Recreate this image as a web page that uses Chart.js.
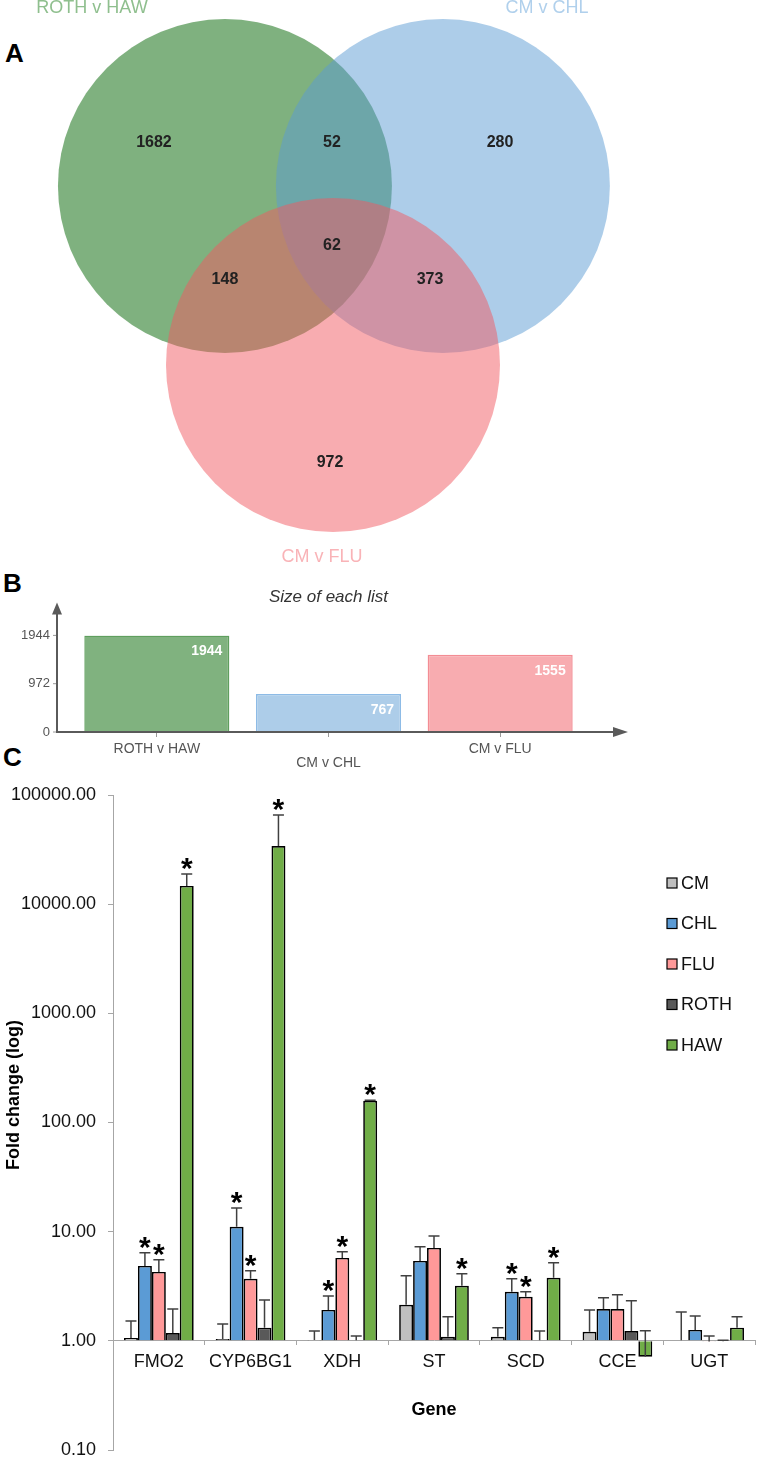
<!DOCTYPE html>
<html>
<head>
<meta charset="utf-8">
<script src="https://cdn.jsdelivr.net/npm/chart.js@4.4.1/dist/chart.umd.min.js"></script>
<style>
body { margin: 0; width: 757px; height: 1457px; overflow: hidden; position: relative; background: #fff; }
canvas { position: absolute; left: 0; }
.tag { position: absolute; font: bold 26px/26px "Liberation Sans", Arial, sans-serif; color: #000; }
</style>
</head>
<body>
<div class="tag" style="left:5px;top:40px">A</div>
<div class="tag" style="left:3px;top:570px">B</div>
<div class="tag" style="left:3px;top:744px">C</div>

<canvas id="chartA" width="757" height="575" style="top:0"></canvas>
<canvas id="chartB" width="757" height="188" style="top:587px"></canvas>
<canvas id="chartC" width="757" height="760" style="top:770px"></canvas>

<script>
// ---- data ----
// A: venn
var vennSets = ['ROTH v HAW', 'CM v CHL', 'CM v FLU'];
var vennCounts = [1682, 52, 280, 62, 148, 373, 972]; // G only, G+B, B only, all, G+P, B+P, P only

// B: list sizes
var listNames = ['ROTH v HAW', 'CM v CHL', 'CM v FLU'];
var listSizes = [1944, 767, 1555];
var listTicks = [0, 972, 1944];

// C: qPCR fold change
var genes = ['FMO2', 'CYP6BG1', 'XDH', 'ST', 'SCD', 'CCE', 'UGT'];
var strains = ['CM', 'CHL', 'FLU', 'ROTH', 'HAW'];
var cmFold   = [1.06, 1.04, 1.02, 2.14, 1.09, 1.21, 1.01];
var chlFold  = [4.86, 11.1, 1.92, 5.4, 2.81, 1.96, 1.26];
var fluFold  = [4.28, 3.70, 5.75, 7.1, 2.53, 1.96, 0.985];
var rothFold = [1.18, 1.32, 1.01, 1.09, 1.01, 1.23, 0.99];
var hawFold  = [14700, 34100, 158, 3.19, 3.78, 0.714, 1.32];
var cmErr   = [0.46, 0.39, 0.21, 1.80, 0.23, 0.71, 0.83];
var chlErr  = [1.54, 5.4, 0.66, 1.86, 0.89, 0.52, 0.43];
var fluErr  = [1.24, 0.68, 0.78, 2.05, 0.28, 0.68, 0.125];
var rothErr = [0.78, 1.05, 0.10, 0.57, 0.22, 1.10, 0.02];
var hawErr  = [4200, 31500, 2, 0.92, 1.40, 0.52, 0.34];
var cmSig   = [0, 0, 0, 0, 0, 0, 0];
var chlSig  = [1, 1, 1, 0, 1, 0, 0];
var fluSig  = [1, 1, 1, 0, 1, 0, 0];
var rothSig = [0, 0, 0, 0, 0, 0, 0];
var hawSig  = [1, 1, 1, 1, 1, 0, 0];
var foldTicks = [0.1, 1, 10, 100, 1000, 10000, 100000];

var FONT = '"Liberation Sans", Arial, sans-serif';
Chart.defaults.font.family = FONT;

// ---- A: venn drawn as big scatter points, geometry in circle-radius units ----
var vennLayout = {
  circles: [{x: 0, y: 0}, {x: 1.305, y: 0}, {x: 0.647, y: -1.072}],
  fill: ['rgba(0,100,0,0.5)', 'rgba(91,155,211,0.5)', 'rgba(241,89,97,0.5)'],
  countAt: [[-0.425, 0.263], [0.641, 0.263], [1.647, 0.263], [0.641, -0.359], [0, -0.563], [1.228, -0.563], [0.629, -1.653]],
  setAt: [[-0.796, 1.066], [1.928, 1.066], [0.581, -2.222]],
  setColor: ['#8fbf8e', '#b0d0ec', '#f9b3b7']
};

function unitPx(chart) {
  var x = chart.scales.x;
  return x.getPixelForValue(1) - x.getPixelForValue(0);
}

var vennText = {
  id: 'vennText',
  afterDatasetsDraw: function(chart) {
    var ctx = chart.ctx, sx = chart.scales.x, sy = chart.scales.y;
    ctx.save();
    ctx.textAlign = 'center';
    ctx.textBaseline = 'middle';
    ctx.font = 'bold 16px ' + FONT;
    ctx.fillStyle = '#222';
    vennCounts.forEach(function(n, i) {
      var p = vennLayout.countAt[i];
      ctx.fillText(n, sx.getPixelForValue(p[0]), sy.getPixelForValue(p[1]));
    });
    ctx.font = '18px ' + FONT;
    vennSets.forEach(function(s, i) {
      var p = vennLayout.setAt[i];
      ctx.fillStyle = vennLayout.setColor[i];
      ctx.fillText(s, sx.getPixelForValue(p[0]), sy.getPixelForValue(p[1]));
    });
    ctx.restore();
  }
};

new Chart(document.getElementById('chartA'), {
  type: 'scatter',
  data: {
    datasets: [{
      data: vennLayout.circles,
      backgroundColor: vennLayout.fill,
      borderWidth: 0,
      pointBorderWidth: 0,
      pointRadius: function(c) { return unitPx(c.chart); },
      clip: false
    }]
  },
  options: {
    responsive: false, animation: false, events: [],
    plugins: { legend: { display: false }, tooltip: { enabled: false } },
    scales: {
      x: { type: 'linear', display: false, min: -1.347, max: 3.186 },
      y: { type: 'linear', display: false, min: -2.329, max: 1.114 }
    }
  },
  plugins: [vennText]
});

// ---- B: size of each list ----
var axesB = {
  id: 'axesB',
  afterDatasetsDraw: function(chart) {
    var ctx = chart.ctx, a = chart.chartArea, y = chart.scales.y;
    var x0 = a.left - 14, y0 = y.getPixelForValue(0);
    ctx.save();
    // value labels inside bars
    ctx.font = 'bold 14px ' + FONT;
    ctx.fillStyle = '#fff';
    ctx.textAlign = 'right';
    ctx.textBaseline = 'middle';
    chart.getDatasetMeta(0).data.forEach(function(bar, i) {
      ctx.fillText(listSizes[i], bar.x + bar.width / 2 - 7, bar.y + 16);
    });
    // y tick dashes
    ctx.strokeStyle = '#999';
    ctx.lineWidth = 1;
    listTicks.forEach(function(v) {
      var py = y.getPixelForValue(v);
      ctx.beginPath(); ctx.moveTo(x0 - 4, py); ctx.lineTo(x0, py); ctx.stroke();
    });
    // axes with arrows
    ctx.strokeStyle = ctx.fillStyle = '#5a5a5a';
    ctx.lineWidth = 2;
    ctx.beginPath();
    ctx.moveTo(x0, a.top - 22); ctx.lineTo(x0, y0); ctx.lineTo(a.right + 28, y0);
    ctx.stroke();
    ctx.beginPath();
    ctx.moveTo(x0, a.top - 33); ctx.lineTo(x0 - 5, a.top - 21); ctx.lineTo(x0 + 5, a.top - 21); ctx.closePath();
    ctx.moveTo(a.right + 42, y0); ctx.lineTo(a.right + 27, y0 - 5); ctx.lineTo(a.right + 27, y0 + 5); ctx.closePath();
    ctx.fill();
    ctx.restore();
  }
};

new Chart(document.getElementById('chartB'), {
  type: 'bar',
  data: {
    labels: listNames,
    datasets: [{
      data: listSizes,
      backgroundColor: ['#80b27f', '#adcde9', '#f8acb0'],
      borderColor: ['#5f9f5e', '#8dbbe6', '#f38d94'],
      borderWidth: 1.5,
      categoryPercentage: 1,
      barPercentage: 0.845
    }]
  },
  options: {
    responsive: false, animation: false, events: [],
    layout: { padding: { left: 0, right: 171, top: 0, bottom: 5 } },
    plugins: {
      legend: { display: false },
      tooltip: { enabled: false },
      title: {
        display: true, text: 'Size of each list', fullSize: false,
        color: '#333', font: { size: 17, style: 'italic', weight: 'normal' },
        padding: { top: 0, bottom: 28 }
      }
    },
    scales: {
      x: {
        grid: { display: true, drawOnChartArea: false, offset: false, tickLength: 5, color: '#999' },
        border: { display: false },
        ticks: {
          color: '#555', font: { size: 14, lineHeight: 1 }, padding: 5, autoSkip: false, maxRotation: 0,
          callback: function(v, i) {
            var l = this.getLabelForValue(v);
            return i % 2 ? ['', l] : l;
          }
        },
        afterFit: function(s) { s.height = 38; }
      },
      y: {
        min: 0, max: 1944,
        afterBuildTicks: function(s) { s.ticks = listTicks.map(function(v) { return { value: v }; }); },
        grid: { display: false, drawTicks: false },
        border: { display: false },
        ticks: { color: '#555', font: { size: 13 }, padding: 21, callback: function(v) { return String(v); } },
        afterFit: function(s) { s.width = 71; }
      }
    }
  },
  plugins: [axesB]
});

// ---- C: fold change, log scale ----
var colorsC = ['#bfbfbf', '#5b9bd5', '#ff9999', '#595959', '#70ad47'];
var foldC = [cmFold, chlFold, fluFold, rothFold, hawFold];
var errC = [cmErr, chlErr, fluErr, rothErr, hawErr];
var sigC = [cmSig, chlSig, fluSig, rothSig, hawSig];

var extrasC = {
  id: 'extrasC',
  afterDatasetsDraw: function(chart) {
    var ctx = chart.ctx, y = chart.scales.y, a = chart.chartArea;
    ctx.save();
    chart.data.datasets.forEach(function(ds, i) {
      chart.getDatasetMeta(i).data.forEach(function(bar, j) {
        var top = y.getPixelForValue(ds.data[j] + ds.errorBars[j]);
        ctx.strokeStyle = '#404040';
        ctx.lineWidth = 1.5;
        ctx.beginPath();
        ctx.moveTo(bar.x, bar.y); ctx.lineTo(bar.x, top);
        ctx.moveTo(bar.x - 5.5, top); ctx.lineTo(bar.x + 5.5, top);
        ctx.stroke();
        if (ds.significant[j]) {
          ctx.fillStyle = '#000';
          ctx.font = 'bold 30px ' + FONT;
          ctx.textAlign = 'center';
          ctx.textBaseline = 'alphabetic';
          ctx.fillText('*', bar.x, top + 4);
        }
      });
    });
    // legend
    ctx.font = '18px ' + FONT;
    ctx.textAlign = 'left';
    ctx.textBaseline = 'middle';
    chart.data.datasets.forEach(function(ds, i) {
      var ly = a.top + 88 + i * 40.5, lx = a.right - 88;
      ctx.fillStyle = ds.backgroundColor;
      ctx.fillRect(lx, ly - 5, 10, 10);
      ctx.strokeStyle = '#000';
      ctx.lineWidth = 1.2;
      ctx.strokeRect(lx, ly - 5, 10, 10);
      ctx.fillStyle = '#111';
      ctx.fillText(ds.label, lx + 14, ly + 1);
    });
    // y axis title
    ctx.font = 'bold 18px ' + FONT;
    ctx.textAlign = 'center';
    ctx.translate(14, a.top + (a.bottom - a.top) * 0.458);
    ctx.rotate(-Math.PI / 2);
    ctx.fillStyle = '#000';
    ctx.fillText('Fold change (log)', 0, 0);
    ctx.restore();
  }
};

new Chart(document.getElementById('chartC'), {
  type: 'bar',
  data: {
    labels: genes,
    datasets: strains.map(function(s, i) {
      return {
        label: s,
        data: foldC[i],
        errorBars: errC[i],
        significant: sigC[i],
        base: 1,
        backgroundColor: colorsC[i],
        borderColor: '#000',
        borderWidth: 1.7,
        categoryPercentage: 0.76,
        barPercentage: 1
      };
    })
  },
  options: {
    responsive: false, animation: false, events: [],
    layout: { padding: { left: 0, right: 2, top: 25, bottom: 80 } },
    plugins: { legend: { display: false }, tooltip: { enabled: false } },
    scales: {
      x: {
        position: { y: 1 },
        grid: { display: true, drawOnChartArea: false, tickLength: 4, color: '#a6a6a6' },
        border: { display: true, color: '#a6a6a6', width: 1 },
        ticks: { color: '#111', font: { size: 18 }, padding: 6, autoSkip: false, maxRotation: 0 },
        title: { display: true, text: 'Gene', color: '#000', font: { size: 18, weight: 'bold' }, padding: 0 },
        afterFit: function(s) { s.height = 80; }
      },
      y: {
        type: 'logarithmic', min: 0.1, max: 100000,
        afterBuildTicks: function(s) { s.ticks = foldTicks.map(function(v) { return { value: v }; }); },
        grid: { display: true, drawOnChartArea: false, tickLength: 5, color: '#a6a6a6' },
        border: { display: true, color: '#a6a6a6', width: 1 },
        ticks: { color: '#111', font: { size: 18 }, padding: 12, callback: function(v) { return Number(v).toFixed(2); } },
        afterFit: function(s) { s.width = 113; }
      }
    }
  },
  plugins: [extrasC]
});
</script>
</body>
</html>
